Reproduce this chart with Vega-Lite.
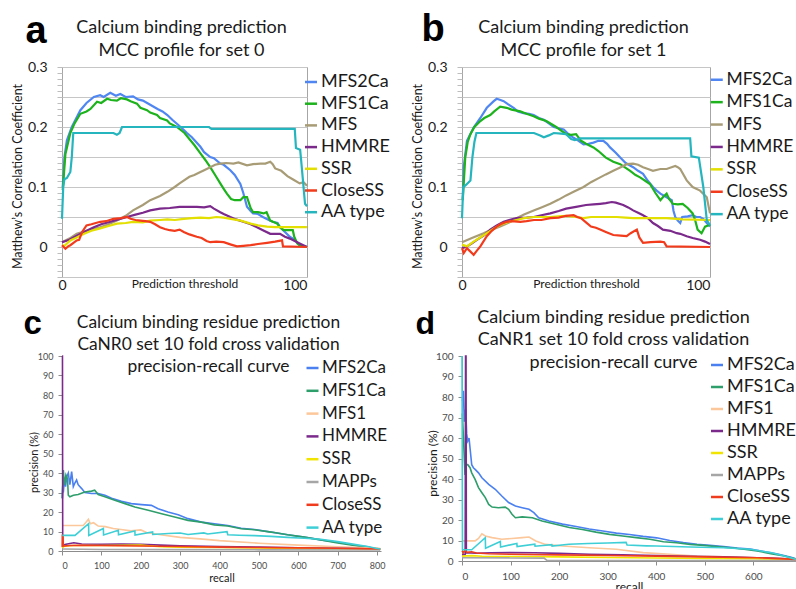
{
"$schema": "https://vega.github.io/schema/vega-lite/v6.json",
"padding": {"left": 10, "top": 9, "right": 0, "bottom": 0},
"background": "white",
"config": {"font": "Lato", "view": {"stroke": null}, "axis": {"labelFont": "Lato", "titleFont": "Lato", "titleColor": "#1a1a1a", "labelColor": "#1a1a1a"}, "legend": {"labelFont": "Lato"}},
"columns": 2,
"spacing": {"row": 79, "column": 81},
"bounds": "flush",
"resolve": {"scale": {"color": "independent"}, "legend": {"color": "independent"}},
"datasets": {
"a": [
{"s":"MFS2Ca","x":0.3,"y":0.1},{"s":"MFS2Ca","x":1,"y":0.15},{"s":"MFS2Ca","x":2,"y":0.178},{"s":"MFS2Ca","x":4,"y":0.2},{"s":"MFS2Ca","x":7.5,"y":0.228},{"s":"MFS2Ca","x":10,"y":0.24},{"s":"MFS2Ca","x":13,"y":0.25},{"s":"MFS2Ca","x":15.6,"y":0.253},{"s":"MFS2Ca","x":17,"y":0.25},{"s":"MFS2Ca","x":19.7,"y":0.257},{"s":"MFS2Ca","x":22,"y":0.252},{"s":"MFS2Ca","x":23.8,"y":0.255},{"s":"MFS2Ca","x":26,"y":0.25},{"s":"MFS2Ca","x":29,"y":0.251},{"s":"MFS2Ca","x":31,"y":0.246},{"s":"MFS2Ca","x":33,"y":0.244},{"s":"MFS2Ca","x":36,"y":0.237},{"s":"MFS2Ca","x":39,"y":0.23},{"s":"MFS2Ca","x":41,"y":0.226},{"s":"MFS2Ca","x":43,"y":0.22},{"s":"MFS2Ca","x":45,"y":0.212},{"s":"MFS2Ca","x":47,"y":0.205},{"s":"MFS2Ca","x":49,"y":0.198},{"s":"MFS2Ca","x":51,"y":0.19},{"s":"MFS2Ca","x":53,"y":0.183},{"s":"MFS2Ca","x":56.5,"y":0.167},{"s":"MFS2Ca","x":58,"y":0.158},{"s":"MFS2Ca","x":60.5,"y":0.15},{"s":"MFS2Ca","x":62,"y":0.148},{"s":"MFS2Ca","x":64.6,"y":0.139},{"s":"MFS2Ca","x":66,"y":0.137},{"s":"MFS2Ca","x":68.7,"y":0.128},{"s":"MFS2Ca","x":70.5,"y":0.12},{"s":"MFS2Ca","x":72.8,"y":0.105},{"s":"MFS2Ca","x":74,"y":0.09},{"s":"MFS2Ca","x":75.5,"y":0.067},{"s":"MFS2Ca","x":77,"y":0.06},{"s":"MFS2Ca","x":78,"y":0.056},{"s":"MFS2Ca","x":80,"y":0.055},{"s":"MFS2Ca","x":82,"y":0.05},{"s":"MFS2Ca","x":84,"y":0.046},{"s":"MFS2Ca","x":86,"y":0.042},{"s":"MFS2Ca","x":88,"y":0.04},{"s":"MFS2Ca","x":89,"y":0.033},{"s":"MFS2Ca","x":91,"y":0.025},{"s":"MFS2Ca","x":93,"y":0.017},{"s":"MFS2Ca","x":95,"y":0.012},{"s":"MFS2Ca","x":97,"y":0.003},{"s":"MFS2Ca","x":100,"y":0},
{"s":"MFS1Ca","x":0.3,"y":0.095},{"s":"MFS1Ca","x":1.4,"y":0.155},{"s":"MFS1Ca","x":3.4,"y":0.19},{"s":"MFS1Ca","x":5,"y":0.205},{"s":"MFS1Ca","x":7.5,"y":0.222},{"s":"MFS1Ca","x":10,"y":0.226},{"s":"MFS1Ca","x":11.6,"y":0.23},{"s":"MFS1Ca","x":14.3,"y":0.242},{"s":"MFS1Ca","x":16,"y":0.24},{"s":"MFS1Ca","x":18.4,"y":0.247},{"s":"MFS1Ca","x":20,"y":0.245},{"s":"MFS1Ca","x":22.4,"y":0.244},{"s":"MFS1Ca","x":24,"y":0.248},{"s":"MFS1Ca","x":26.5,"y":0.246},{"s":"MFS1Ca","x":28,"y":0.243},{"s":"MFS1Ca","x":30.6,"y":0.239},{"s":"MFS1Ca","x":32,"y":0.232},{"s":"MFS1Ca","x":34.7,"y":0.228},{"s":"MFS1Ca","x":36,"y":0.224},{"s":"MFS1Ca","x":38.8,"y":0.22},{"s":"MFS1Ca","x":40,"y":0.215},{"s":"MFS1Ca","x":42.9,"y":0.211},{"s":"MFS1Ca","x":44,"y":0.206},{"s":"MFS1Ca","x":46.9,"y":0.2},{"s":"MFS1Ca","x":50,"y":0.19},{"s":"MFS1Ca","x":52.4,"y":0.178},{"s":"MFS1Ca","x":54,"y":0.17},{"s":"MFS1Ca","x":56.5,"y":0.156},{"s":"MFS1Ca","x":58.5,"y":0.145},{"s":"MFS1Ca","x":60.5,"y":0.133},{"s":"MFS1Ca","x":62.5,"y":0.12},{"s":"MFS1Ca","x":64.6,"y":0.106},{"s":"MFS1Ca","x":66,"y":0.097},{"s":"MFS1Ca","x":67.3,"y":0.089},{"s":"MFS1Ca","x":69,"y":0.08},{"s":"MFS1Ca","x":70.5,"y":0.078},{"s":"MFS1Ca","x":72.8,"y":0.078},{"s":"MFS1Ca","x":74,"y":0.083},{"s":"MFS1Ca","x":75.5,"y":0.083},{"s":"MFS1Ca","x":77,"y":0.065},{"s":"MFS1Ca","x":78,"y":0.058},{"s":"MFS1Ca","x":80,"y":0.058},{"s":"MFS1Ca","x":82.3,"y":0.056},{"s":"MFS1Ca","x":83.5,"y":0.058},{"s":"MFS1Ca","x":85,"y":0.044},{"s":"MFS1Ca","x":87.8,"y":0.039},{"s":"MFS1Ca","x":89,"y":0.033},{"s":"MFS1Ca","x":90.5,"y":0.028},{"s":"MFS1Ca","x":94.2,"y":0.028},{"s":"MFS1Ca","x":94.8,"y":0.017},{"s":"MFS1Ca","x":96,"y":0.006},{"s":"MFS1Ca","x":97,"y":0.003},{"s":"MFS1Ca","x":100,"y":0},
{"s":"MFS","x":0,"y":0.008},{"s":"MFS","x":3,"y":0.014},{"s":"MFS","x":6,"y":0.022},{"s":"MFS","x":10,"y":0.027},{"s":"MFS","x":15.6,"y":0.033},{"s":"MFS","x":19,"y":0.038},{"s":"MFS","x":22.4,"y":0.044},{"s":"MFS","x":26,"y":0.052},{"s":"MFS","x":29,"y":0.061},{"s":"MFS","x":33,"y":0.07},{"s":"MFS","x":36,"y":0.078},{"s":"MFS","x":40,"y":0.085},{"s":"MFS","x":43,"y":0.092},{"s":"MFS","x":46,"y":0.1},{"s":"MFS","x":48,"y":0.106},{"s":"MFS","x":52,"y":0.117},{"s":"MFS","x":54,"y":0.12},{"s":"MFS","x":56.5,"y":0.125},{"s":"MFS","x":58,"y":0.128},{"s":"MFS","x":60.5,"y":0.133},{"s":"MFS","x":62.5,"y":0.137},{"s":"MFS","x":64.6,"y":0.139},{"s":"MFS","x":67,"y":0.14},{"s":"MFS","x":70,"y":0.139},{"s":"MFS","x":72,"y":0.141},{"s":"MFS","x":75.5,"y":0.136},{"s":"MFS","x":78,"y":0.138},{"s":"MFS","x":81,"y":0.139},{"s":"MFS","x":83,"y":0.139},{"s":"MFS","x":85,"y":0.142},{"s":"MFS","x":86,"y":0.138},{"s":"MFS","x":87,"y":0.131},{"s":"MFS","x":89.5,"y":0.127},{"s":"MFS","x":92,"y":0.118},{"s":"MFS","x":94.5,"y":0.112},{"s":"MFS","x":97,"y":0.106},{"s":"MFS","x":98.6,"y":0.108},{"s":"MFS","x":100,"y":0.102},
{"s":"HMMRE","x":0,"y":0.008},{"s":"HMMRE","x":3,"y":0.012},{"s":"HMMRE","x":6,"y":0.019},{"s":"HMMRE","x":9,"y":0.025},{"s":"HMMRE","x":13,"y":0.033},{"s":"HMMRE","x":16,"y":0.038},{"s":"HMMRE","x":19.7,"y":0.042},{"s":"HMMRE","x":23,"y":0.046},{"s":"HMMRE","x":26.5,"y":0.05},{"s":"HMMRE","x":30,"y":0.054},{"s":"HMMRE","x":33,"y":0.057},{"s":"HMMRE","x":36,"y":0.061},{"s":"HMMRE","x":40,"y":0.064},{"s":"HMMRE","x":44,"y":0.065},{"s":"HMMRE","x":48,"y":0.067},{"s":"HMMRE","x":52,"y":0.067},{"s":"HMMRE","x":55,"y":0.067},{"s":"HMMRE","x":58,"y":0.066},{"s":"HMMRE","x":60.5,"y":0.068},{"s":"HMMRE","x":62,"y":0.064},{"s":"HMMRE","x":64.6,"y":0.058},{"s":"HMMRE","x":66,"y":0.055},{"s":"HMMRE","x":68.7,"y":0.05},{"s":"HMMRE","x":71,"y":0.046},{"s":"HMMRE","x":74,"y":0.042},{"s":"HMMRE","x":77,"y":0.038},{"s":"HMMRE","x":79.6,"y":0.033},{"s":"HMMRE","x":82,"y":0.028},{"s":"HMMRE","x":85,"y":0.022},{"s":"HMMRE","x":89,"y":0.022},{"s":"HMMRE","x":91,"y":0.017},{"s":"HMMRE","x":93,"y":0.014},{"s":"HMMRE","x":95,"y":0.01},{"s":"HMMRE","x":97,"y":0.006},{"s":"HMMRE","x":100,"y":0},
{"s":"SSR","x":0,"y":0.003},{"s":"SSR","x":1,"y":0.002},{"s":"SSR","x":3.4,"y":0.011},{"s":"SSR","x":6,"y":0.016},{"s":"SSR","x":9,"y":0.022},{"s":"SSR","x":12,"y":0.027},{"s":"SSR","x":15.6,"y":0.031},{"s":"SSR","x":19,"y":0.035},{"s":"SSR","x":22.4,"y":0.039},{"s":"SSR","x":26,"y":0.04},{"s":"SSR","x":29,"y":0.042},{"s":"SSR","x":33,"y":0.041},{"s":"SSR","x":36,"y":0.044},{"s":"SSR","x":40,"y":0.045},{"s":"SSR","x":43,"y":0.046},{"s":"SSR","x":46,"y":0.045},{"s":"SSR","x":49.7,"y":0.047},{"s":"SSR","x":53,"y":0.048},{"s":"SSR","x":56.5,"y":0.049},{"s":"SSR","x":60,"y":0.048},{"s":"SSR","x":63,"y":0.05},{"s":"SSR","x":66,"y":0.049},{"s":"SSR","x":70,"y":0.046},{"s":"SSR","x":73,"y":0.044},{"s":"SSR","x":77,"y":0.039},{"s":"SSR","x":80,"y":0.036},{"s":"SSR","x":83.7,"y":0.034},{"s":"SSR","x":87,"y":0.033},{"s":"SSR","x":90.5,"y":0.033},{"s":"SSR","x":100,"y":0.033},
{"s":"CloseSS","x":0,"y":0.003},{"s":"CloseSS","x":1.4,"y":-0.003},{"s":"CloseSS","x":2.5,"y":0.001},{"s":"CloseSS","x":3.4,"y":0.003},{"s":"CloseSS","x":6,"y":0.011},{"s":"CloseSS","x":7,"y":0.012},{"s":"CloseSS","x":8.2,"y":0.025},{"s":"CloseSS","x":10,"y":0.036},{"s":"CloseSS","x":12,"y":0.038},{"s":"CloseSS","x":15.6,"y":0.042},{"s":"CloseSS","x":18,"y":0.043},{"s":"CloseSS","x":21,"y":0.047},{"s":"CloseSS","x":24,"y":0.048},{"s":"CloseSS","x":26.5,"y":0.05},{"s":"CloseSS","x":28,"y":0.047},{"s":"CloseSS","x":30,"y":0.045},{"s":"CloseSS","x":32,"y":0.044},{"s":"CloseSS","x":34,"y":0.043},{"s":"CloseSS","x":36,"y":0.042},{"s":"CloseSS","x":38,"y":0.038},{"s":"CloseSS","x":40,"y":0.033},{"s":"CloseSS","x":42,"y":0.03},{"s":"CloseSS","x":44,"y":0.028},{"s":"CloseSS","x":46,"y":0.027},{"s":"CloseSS","x":48,"y":0.029},{"s":"CloseSS","x":49.7,"y":0.025},{"s":"CloseSS","x":52,"y":0.021},{"s":"CloseSS","x":55,"y":0.017},{"s":"CloseSS","x":57,"y":0.015},{"s":"CloseSS","x":59,"y":0.01},{"s":"CloseSS","x":60.5,"y":0.008},{"s":"CloseSS","x":63,"y":0.009},{"s":"CloseSS","x":66,"y":0.008},{"s":"CloseSS","x":69,"y":0.004},{"s":"CloseSS","x":71.4,"y":0.001},{"s":"CloseSS","x":74,"y":0.002},{"s":"CloseSS","x":77,"y":0.003},{"s":"CloseSS","x":80,"y":0.005},{"s":"CloseSS","x":83.7,"y":0.007},{"s":"CloseSS","x":87,"y":0.009},{"s":"CloseSS","x":89.8,"y":0.011},{"s":"CloseSS","x":90.2,"y":0.001},{"s":"CloseSS","x":100,"y":0},
{"s":"AA type","x":0,"y":0.047},{"s":"AA type","x":0.5,"y":0.1},{"s":"AA type","x":1,"y":0.113},{"s":"AA type","x":2,"y":0.115},{"s":"AA type","x":3.4,"y":0.125},{"s":"AA type","x":4,"y":0.15},{"s":"AA type","x":4.6,"y":0.19},{"s":"AA type","x":21,"y":0.19},{"s":"AA type","x":22.4,"y":0.187},{"s":"AA type","x":23.5,"y":0.19},{"s":"AA type","x":24.5,"y":0.2},{"s":"AA type","x":60,"y":0.2},{"s":"AA type","x":61,"y":0.197},{"s":"AA type","x":95,"y":0.197},{"s":"AA type","x":95.5,"y":0.165},{"s":"AA type","x":97.2,"y":0.162},{"s":"AA type","x":97.6,"y":0.145},{"s":"AA type","x":99.2,"y":0.072},{"s":"AA type","x":100,"y":0.068}
],
"b": [
{"s":"MFS2Ca","x":0.3,"y":0.08},{"s":"MFS2Ca","x":0.7,"y":0.133},{"s":"MFS2Ca","x":2,"y":0.177},{"s":"MFS2Ca","x":4.7,"y":0.199},{"s":"MFS2Ca","x":7.4,"y":0.215},{"s":"MFS2Ca","x":10,"y":0.232},{"s":"MFS2Ca","x":12.8,"y":0.243},{"s":"MFS2Ca","x":14,"y":0.247},{"s":"MFS2Ca","x":15.5,"y":0.245},{"s":"MFS2Ca","x":16.8,"y":0.243},{"s":"MFS2Ca","x":18.5,"y":0.238},{"s":"MFS2Ca","x":20.8,"y":0.232},{"s":"MFS2Ca","x":22.5,"y":0.226},{"s":"MFS2Ca","x":24.8,"y":0.223},{"s":"MFS2Ca","x":27,"y":0.222},{"s":"MFS2Ca","x":28.9,"y":0.22},{"s":"MFS2Ca","x":31,"y":0.215},{"s":"MFS2Ca","x":33,"y":0.212},{"s":"MFS2Ca","x":35,"y":0.206},{"s":"MFS2Ca","x":37,"y":0.2},{"s":"MFS2Ca","x":39,"y":0.198},{"s":"MFS2Ca","x":41,"y":0.196},{"s":"MFS2Ca","x":43,"y":0.188},{"s":"MFS2Ca","x":45,"y":0.182},{"s":"MFS2Ca","x":47,"y":0.177},{"s":"MFS2Ca","x":49,"y":0.171},{"s":"MFS2Ca","x":51,"y":0.172},{"s":"MFS2Ca","x":53,"y":0.174},{"s":"MFS2Ca","x":55,"y":0.177},{"s":"MFS2Ca","x":57,"y":0.177},{"s":"MFS2Ca","x":58.5,"y":0.172},{"s":"MFS2Ca","x":59.7,"y":0.166},{"s":"MFS2Ca","x":62,"y":0.157},{"s":"MFS2Ca","x":63.8,"y":0.149},{"s":"MFS2Ca","x":66,"y":0.14},{"s":"MFS2Ca","x":69,"y":0.133},{"s":"MFS2Ca","x":71,"y":0.127},{"s":"MFS2Ca","x":73,"y":0.122},{"s":"MFS2Ca","x":75,"y":0.11},{"s":"MFS2Ca","x":77,"y":0.1},{"s":"MFS2Ca","x":78.5,"y":0.094},{"s":"MFS2Ca","x":80,"y":0.089},{"s":"MFS2Ca","x":82.5,"y":0.083},{"s":"MFS2Ca","x":84.6,"y":0.078},{"s":"MFS2Ca","x":85.3,"y":0.06},{"s":"MFS2Ca","x":86,"y":0.05},{"s":"MFS2Ca","x":87,"y":0.044},{"s":"MFS2Ca","x":88,"y":0.04},{"s":"MFS2Ca","x":88.8,"y":0.05},{"s":"MFS2Ca","x":91,"y":0.051},{"s":"MFS2Ca","x":93,"y":0.053},{"s":"MFS2Ca","x":94.5,"y":0.05},{"s":"MFS2Ca","x":96,"y":0.05},{"s":"MFS2Ca","x":97.5,"y":0.046},{"s":"MFS2Ca","x":98.7,"y":0.04},{"s":"MFS2Ca","x":100,"y":0.034},
{"s":"MFS1Ca","x":0.3,"y":0.078},{"s":"MFS1Ca","x":1.3,"y":0.149},{"s":"MFS1Ca","x":2.3,"y":0.175},{"s":"MFS1Ca","x":3.4,"y":0.188},{"s":"MFS1Ca","x":5,"y":0.2},{"s":"MFS1Ca","x":7.4,"y":0.21},{"s":"MFS1Ca","x":9,"y":0.215},{"s":"MFS1Ca","x":11.4,"y":0.22},{"s":"MFS1Ca","x":13,"y":0.226},{"s":"MFS1Ca","x":15.4,"y":0.234},{"s":"MFS1Ca","x":18,"y":0.232},{"s":"MFS1Ca","x":20,"y":0.229},{"s":"MFS1Ca","x":23.5,"y":0.226},{"s":"MFS1Ca","x":26,"y":0.222},{"s":"MFS1Ca","x":28.9,"y":0.218},{"s":"MFS1Ca","x":31,"y":0.214},{"s":"MFS1Ca","x":34,"y":0.21},{"s":"MFS1Ca","x":36,"y":0.205},{"s":"MFS1Ca","x":38,"y":0.2},{"s":"MFS1Ca","x":40,"y":0.194},{"s":"MFS1Ca","x":42,"y":0.188},{"s":"MFS1Ca","x":44,"y":0.187},{"s":"MFS1Ca","x":46,"y":0.188},{"s":"MFS1Ca","x":48,"y":0.177},{"s":"MFS1Ca","x":50,"y":0.172},{"s":"MFS1Ca","x":53,"y":0.166},{"s":"MFS1Ca","x":55,"y":0.16},{"s":"MFS1Ca","x":58,"y":0.149},{"s":"MFS1Ca","x":61,"y":0.142},{"s":"MFS1Ca","x":63.8,"y":0.138},{"s":"MFS1Ca","x":66,"y":0.132},{"s":"MFS1Ca","x":67.8,"y":0.127},{"s":"MFS1Ca","x":70,"y":0.12},{"s":"MFS1Ca","x":71.8,"y":0.116},{"s":"MFS1Ca","x":74,"y":0.11},{"s":"MFS1Ca","x":75.8,"y":0.105},{"s":"MFS1Ca","x":78,"y":0.09},{"s":"MFS1Ca","x":80,"y":0.078},{"s":"MFS1Ca","x":81,"y":0.083},{"s":"MFS1Ca","x":82.5,"y":0.089},{"s":"MFS1Ca","x":83.5,"y":0.08},{"s":"MFS1Ca","x":85,"y":0.072},{"s":"MFS1Ca","x":87,"y":0.071},{"s":"MFS1Ca","x":89,"y":0.072},{"s":"MFS1Ca","x":91,"y":0.065},{"s":"MFS1Ca","x":93,"y":0.056},{"s":"MFS1Ca","x":94,"y":0.045},{"s":"MFS1Ca","x":95,"y":0.029},{"s":"MFS1Ca","x":96.6,"y":0.023},{"s":"MFS1Ca","x":97.5,"y":0.03},{"s":"MFS1Ca","x":98,"y":0.034},{"s":"MFS1Ca","x":100,"y":0.037},
{"s":"MFS","x":0,"y":0.008},{"s":"MFS","x":4,"y":0.015},{"s":"MFS","x":8.7,"y":0.023},{"s":"MFS","x":12,"y":0.029},{"s":"MFS","x":15.4,"y":0.034},{"s":"MFS","x":19,"y":0.041},{"s":"MFS","x":22,"y":0.048},{"s":"MFS","x":25,"y":0.054},{"s":"MFS","x":28.9,"y":0.061},{"s":"MFS","x":32,"y":0.066},{"s":"MFS","x":35.6,"y":0.072},{"s":"MFS","x":39,"y":0.079},{"s":"MFS","x":42,"y":0.086},{"s":"MFS","x":45,"y":0.092},{"s":"MFS","x":49,"y":0.1},{"s":"MFS","x":52,"y":0.108},{"s":"MFS","x":55.7,"y":0.116},{"s":"MFS","x":58,"y":0.121},{"s":"MFS","x":61,"y":0.127},{"s":"MFS","x":64,"y":0.133},{"s":"MFS","x":66.4,"y":0.138},{"s":"MFS","x":69,"y":0.139},{"s":"MFS","x":71,"y":0.137},{"s":"MFS","x":73,"y":0.133},{"s":"MFS","x":75,"y":0.13},{"s":"MFS","x":77,"y":0.127},{"s":"MFS","x":80,"y":0.13},{"s":"MFS","x":82.5,"y":0.13},{"s":"MFS","x":84.5,"y":0.133},{"s":"MFS","x":86,"y":0.135},{"s":"MFS","x":87,"y":0.133},{"s":"MFS","x":88,"y":0.13},{"s":"MFS","x":90.6,"y":0.111},{"s":"MFS","x":93,"y":0.1},{"s":"MFS","x":96,"y":0.094},{"s":"MFS","x":98.7,"y":0.083},{"s":"MFS","x":100,"y":0.056},
{"s":"HMMRE","x":0,"y":-0.002},{"s":"HMMRE","x":2,"y":0.001},{"s":"HMMRE","x":4,"y":0.006},{"s":"HMMRE","x":6,"y":0.012},{"s":"HMMRE","x":9,"y":0.02},{"s":"HMMRE","x":11.4,"y":0.029},{"s":"HMMRE","x":14,"y":0.036},{"s":"HMMRE","x":16.8,"y":0.042},{"s":"HMMRE","x":19,"y":0.045},{"s":"HMMRE","x":22,"y":0.048},{"s":"HMMRE","x":26,"y":0.049},{"s":"HMMRE","x":28.9,"y":0.05},{"s":"HMMRE","x":32,"y":0.053},{"s":"HMMRE","x":35.6,"y":0.056},{"s":"HMMRE","x":39,"y":0.06},{"s":"HMMRE","x":42,"y":0.064},{"s":"HMMRE","x":46,"y":0.067},{"s":"HMMRE","x":50,"y":0.07},{"s":"HMMRE","x":53,"y":0.071},{"s":"HMMRE","x":55.7,"y":0.072},{"s":"HMMRE","x":58,"y":0.073},{"s":"HMMRE","x":60.4,"y":0.075},{"s":"HMMRE","x":62,"y":0.074},{"s":"HMMRE","x":65,"y":0.07},{"s":"HMMRE","x":67,"y":0.066},{"s":"HMMRE","x":69,"y":0.061},{"s":"HMMRE","x":71,"y":0.057},{"s":"HMMRE","x":73,"y":0.053},{"s":"HMMRE","x":75,"y":0.048},{"s":"HMMRE","x":77,"y":0.04},{"s":"HMMRE","x":79,"y":0.035},{"s":"HMMRE","x":81,"y":0.029},{"s":"HMMRE","x":84,"y":0.027},{"s":"HMMRE","x":86.6,"y":0.023},{"s":"HMMRE","x":88,"y":0.022},{"s":"HMMRE","x":90.6,"y":0.018},{"s":"HMMRE","x":93,"y":0.015},{"s":"HMMRE","x":96,"y":0.012},{"s":"HMMRE","x":98,"y":0.009},{"s":"HMMRE","x":100,"y":0.005},
{"s":"SSR","x":0,"y":0.004},{"s":"SSR","x":2,"y":0.001},{"s":"SSR","x":4.7,"y":0.009},{"s":"SSR","x":7,"y":0.015},{"s":"SSR","x":10,"y":0.023},{"s":"SSR","x":13,"y":0.031},{"s":"SSR","x":15.4,"y":0.037},{"s":"SSR","x":19,"y":0.042},{"s":"SSR","x":22,"y":0.045},{"s":"SSR","x":25,"y":0.048},{"s":"SSR","x":28.9,"y":0.05},{"s":"SSR","x":32,"y":0.05},{"s":"SSR","x":35.6,"y":0.05},{"s":"SSR","x":39,"y":0.051},{"s":"SSR","x":42,"y":0.052},{"s":"SSR","x":46,"y":0.05},{"s":"SSR","x":49,"y":0.048},{"s":"SSR","x":52,"y":0.05},{"s":"SSR","x":55.7,"y":0.05},{"s":"SSR","x":59,"y":0.05},{"s":"SSR","x":62.4,"y":0.05},{"s":"SSR","x":66,"y":0.049},{"s":"SSR","x":69,"y":0.048},{"s":"SSR","x":75.8,"y":0.048},{"s":"SSR","x":82.5,"y":0.048},{"s":"SSR","x":89,"y":0.046},{"s":"SSR","x":100,"y":0.045},
{"s":"CloseSS","x":0,"y":-0.002},{"s":"CloseSS","x":0.7,"y":-0.01},{"s":"CloseSS","x":2,"y":-0.002},{"s":"CloseSS","x":3,"y":-0.006},{"s":"CloseSS","x":4.7,"y":-0.013},{"s":"CloseSS","x":6,"y":-0.006},{"s":"CloseSS","x":7.4,"y":0.001},{"s":"CloseSS","x":10,"y":0.018},{"s":"CloseSS","x":12,"y":0.027},{"s":"CloseSS","x":14,"y":0.034},{"s":"CloseSS","x":16,"y":0.039},{"s":"CloseSS","x":18,"y":0.042},{"s":"CloseSS","x":20,"y":0.043},{"s":"CloseSS","x":23.5,"y":0.042},{"s":"CloseSS","x":26,"y":0.043},{"s":"CloseSS","x":29,"y":0.045},{"s":"CloseSS","x":32,"y":0.045},{"s":"CloseSS","x":35.6,"y":0.048},{"s":"CloseSS","x":39,"y":0.049},{"s":"CloseSS","x":42,"y":0.052},{"s":"CloseSS","x":45,"y":0.053},{"s":"CloseSS","x":46.5,"y":0.05},{"s":"CloseSS","x":48,"y":0.048},{"s":"CloseSS","x":50,"y":0.041},{"s":"CloseSS","x":52,"y":0.034},{"s":"CloseSS","x":54,"y":0.032},{"s":"CloseSS","x":55.7,"y":0.029},{"s":"CloseSS","x":58,"y":0.025},{"s":"CloseSS","x":61,"y":0.02},{"s":"CloseSS","x":64,"y":0.019},{"s":"CloseSS","x":66.4,"y":0.018},{"s":"CloseSS","x":68,"y":0.023},{"s":"CloseSS","x":70.5,"y":0.029},{"s":"CloseSS","x":71.5,"y":0.016},{"s":"CloseSS","x":73,"y":0.007},{"s":"CloseSS","x":76,"y":0.008},{"s":"CloseSS","x":80,"y":0.009},{"s":"CloseSS","x":81.5,"y":0.008},{"s":"CloseSS","x":82.5,"y":0.001},{"s":"CloseSS","x":100,"y":0},
{"s":"AA type","x":0,"y":0.048},{"s":"AA type","x":0.5,"y":0.1},{"s":"AA type","x":1.5,"y":0.103},{"s":"AA type","x":3.4,"y":0.111},{"s":"AA type","x":4.2,"y":0.15},{"s":"AA type","x":5,"y":0.175},{"s":"AA type","x":5.8,"y":0.19},{"s":"AA type","x":29,"y":0.19},{"s":"AA type","x":31.5,"y":0.186},{"s":"AA type","x":33,"y":0.183},{"s":"AA type","x":35,"y":0.186},{"s":"AA type","x":37,"y":0.19},{"s":"AA type","x":40,"y":0.189},{"s":"AA type","x":42,"y":0.188},{"s":"AA type","x":44,"y":0.18},{"s":"AA type","x":45.5,"y":0.178},{"s":"AA type","x":47.7,"y":0.181},{"s":"AA type","x":92,"y":0.181},{"s":"AA type","x":92.5,"y":0.151},{"s":"AA type","x":95.5,"y":0.149},{"s":"AA type","x":97.3,"y":0.1},{"s":"AA type","x":98.7,"y":0.045},{"s":"AA type","x":100,"y":0.036}
],
"c": [
{"s":"MFS2Ca","x":0.8,"y":27},{"s":"MFS2Ca","x":2,"y":34},{"s":"MFS2Ca","x":3.4,"y":30},{"s":"MFS2Ca","x":6,"y":37},{"s":"MFS2Ca","x":9,"y":33},{"s":"MFS2Ca","x":12,"y":38},{"s":"MFS2Ca","x":16,"y":40},{"s":"MFS2Ca","x":20,"y":34},{"s":"MFS2Ca","x":24.5,"y":40.7},{"s":"MFS2Ca","x":28.7,"y":33},{"s":"MFS2Ca","x":33,"y":35},{"s":"MFS2Ca","x":37,"y":36.4},{"s":"MFS2Ca","x":41,"y":34},{"s":"MFS2Ca","x":50,"y":32},{"s":"MFS2Ca","x":58,"y":30},{"s":"MFS2Ca","x":75,"y":29.5},{"s":"MFS2Ca","x":92,"y":29.5},{"s":"MFS2Ca","x":109,"y":28.6},{"s":"MFS2Ca","x":126,"y":27},{"s":"MFS2Ca","x":151,"y":25.5},{"s":"MFS2Ca","x":176,"y":24.3},{"s":"MFS2Ca","x":202,"y":23.8},{"s":"MFS2Ca","x":227,"y":23.4},{"s":"MFS2Ca","x":244,"y":21.7},{"s":"MFS2Ca","x":269,"y":20},{"s":"MFS2Ca","x":295,"y":18.6},{"s":"MFS2Ca","x":320,"y":16.6},{"s":"MFS2Ca","x":354,"y":14.8},{"s":"MFS2Ca","x":387,"y":14},{"s":"MFS2Ca","x":421,"y":13.1},{"s":"MFS2Ca","x":455,"y":11.7},{"s":"MFS2Ca","x":489,"y":11},{"s":"MFS2Ca","x":531,"y":9.7},{"s":"MFS2Ca","x":573,"y":8.3},{"s":"MFS2Ca","x":615,"y":7.1},{"s":"MFS2Ca","x":657,"y":5.7},{"s":"MFS2Ca","x":700,"y":4.5},{"s":"MFS2Ca","x":742,"y":3.1},{"s":"MFS2Ca","x":776,"y":2.2},{"s":"MFS2Ca","x":797,"y":1.2},{"s":"MFS2Ca","x":808,"y":0.8},
{"s":"MFS1Ca","x":0.8,"y":27},{"s":"MFS1Ca","x":3.4,"y":41.5},{"s":"MFS1Ca","x":6,"y":33.8},{"s":"MFS1Ca","x":10,"y":39},{"s":"MFS1Ca","x":14,"y":37},{"s":"MFS1Ca","x":16,"y":28.6},{"s":"MFS1Ca","x":20,"y":27.8},{"s":"MFS1Ca","x":29,"y":28.6},{"s":"MFS1Ca","x":41,"y":29},{"s":"MFS1Ca","x":58,"y":30.3},{"s":"MFS1Ca","x":75,"y":30.7},{"s":"MFS1Ca","x":83,"y":31.2},{"s":"MFS1Ca","x":92,"y":29},{"s":"MFS1Ca","x":109,"y":27.8},{"s":"MFS1Ca","x":134,"y":26},{"s":"MFS1Ca","x":160,"y":24.3},{"s":"MFS1Ca","x":185,"y":22.6},{"s":"MFS1Ca","x":219,"y":20.9},{"s":"MFS1Ca","x":253,"y":19.1},{"s":"MFS1Ca","x":286,"y":17.4},{"s":"MFS1Ca","x":320,"y":15.7},{"s":"MFS1Ca","x":354,"y":14.8},{"s":"MFS1Ca","x":387,"y":13.4},{"s":"MFS1Ca","x":421,"y":12.8},{"s":"MFS1Ca","x":455,"y":11.4},{"s":"MFS1Ca","x":489,"y":10.9},{"s":"MFS1Ca","x":531,"y":9.7},{"s":"MFS1Ca","x":573,"y":8.3},{"s":"MFS1Ca","x":615,"y":7.1},{"s":"MFS1Ca","x":657,"y":5.7},{"s":"MFS1Ca","x":700,"y":4.1},{"s":"MFS1Ca","x":742,"y":2.8},{"s":"MFS1Ca","x":797,"y":1.2},{"s":"MFS1Ca","x":808,"y":0.8},
{"s":"MFS1","x":0.8,"y":13.1},{"s":"MFS1","x":54,"y":13.1},{"s":"MFS1","x":60,"y":14.5},{"s":"MFS1","x":67,"y":16.3},{"s":"MFS1","x":72,"y":14},{"s":"MFS1","x":80,"y":14.5},{"s":"MFS1","x":92,"y":12.8},{"s":"MFS1","x":110,"y":12.5},{"s":"MFS1","x":130,"y":11.5},{"s":"MFS1","x":150,"y":11},{"s":"MFS1","x":175,"y":10.3},{"s":"MFS1","x":200,"y":10.8},{"s":"MFS1","x":215,"y":9.5},{"s":"MFS1","x":250,"y":8.3},{"s":"MFS1","x":300,"y":7},{"s":"MFS1","x":350,"y":6.2},{"s":"MFS1","x":400,"y":5.3},{"s":"MFS1","x":500,"y":4},{"s":"MFS1","x":600,"y":3},{"s":"MFS1","x":700,"y":2.2},{"s":"MFS1","x":800,"y":1.5},{"s":"MFS1","x":808,"y":1.3},
{"s":"HMMRE","x":0.3,"y":100},{"s":"HMMRE","x":1.2,"y":100},{"s":"HMMRE","x":1.8,"y":3},{"s":"HMMRE","x":10,"y":3.5},{"s":"HMMRE","x":30,"y":4.2},{"s":"HMMRE","x":50,"y":3.6},{"s":"HMMRE","x":100,"y":3.5},{"s":"HMMRE","x":150,"y":3.6},{"s":"HMMRE","x":200,"y":3.4},{"s":"HMMRE","x":250,"y":3},{"s":"HMMRE","x":300,"y":2.7},{"s":"HMMRE","x":400,"y":2.3},{"s":"HMMRE","x":500,"y":2},{"s":"HMMRE","x":600,"y":1.7},{"s":"HMMRE","x":700,"y":1.4},{"s":"HMMRE","x":808,"y":1},
{"s":"SSR","x":0.5,"y":1.5},{"s":"SSR","x":5,"y":2.5},{"s":"SSR","x":30,"y":2.8},{"s":"SSR","x":100,"y":2.8},{"s":"SSR","x":200,"y":3},{"s":"SSR","x":250,"y":2.2},{"s":"SSR","x":300,"y":2},{"s":"SSR","x":400,"y":1.8},{"s":"SSR","x":500,"y":1.5},{"s":"SSR","x":600,"y":1.3},{"s":"SSR","x":700,"y":1.1},{"s":"SSR","x":808,"y":0.9},
{"s":"MAPPs","x":0.5,"y":1},{"s":"MAPPs","x":100,"y":0.8},{"s":"MAPPs","x":300,"y":0.7},{"s":"MAPPs","x":500,"y":0.6},{"s":"MAPPs","x":808,"y":0.5},
{"s":"CloseSS","x":0.5,"y":2},{"s":"CloseSS","x":1,"y":8},{"s":"CloseSS","x":2.5,"y":8},{"s":"CloseSS","x":3.5,"y":2.5},{"s":"CloseSS","x":20,"y":2.8},{"s":"CloseSS","x":50,"y":2.9},{"s":"CloseSS","x":100,"y":2.8},{"s":"CloseSS","x":200,"y":2.6},{"s":"CloseSS","x":300,"y":2.3},{"s":"CloseSS","x":400,"y":2},{"s":"CloseSS","x":500,"y":1.8},{"s":"CloseSS","x":600,"y":1.6},{"s":"CloseSS","x":700,"y":1.4},{"s":"CloseSS","x":808,"y":1.1},
{"s":"AA type","x":0.8,"y":8},{"s":"AA type","x":33,"y":8},{"s":"AA type","x":67.5,"y":14},{"s":"AA type","x":68,"y":8},{"s":"AA type","x":105,"y":11.5},{"s":"AA type","x":105.5,"y":8.2},{"s":"AA type","x":143,"y":10.6},{"s":"AA type","x":143.5,"y":8.3},{"s":"AA type","x":185,"y":10.3},{"s":"AA type","x":185.5,"y":8.2},{"s":"AA type","x":230,"y":9.8},{"s":"AA type","x":230.5,"y":8.5},{"s":"AA type","x":270,"y":9},{"s":"AA type","x":300,"y":9.2},{"s":"AA type","x":320,"y":8.5},{"s":"AA type","x":360,"y":9.3},{"s":"AA type","x":370,"y":8.7},{"s":"AA type","x":419,"y":9.9},{"s":"AA type","x":421,"y":8.3},{"s":"AA type","x":450,"y":8.1},{"s":"AA type","x":489,"y":7.9},{"s":"AA type","x":531,"y":7.5},{"s":"AA type","x":573,"y":7},{"s":"AA type","x":615,"y":6.5},{"s":"AA type","x":657,"y":6},{"s":"AA type","x":700,"y":4.8},{"s":"AA type","x":742,"y":3.4},{"s":"AA type","x":776,"y":2.3},{"s":"AA type","x":797,"y":1.4},{"s":"AA type","x":808,"y":1}
],
"d": [
{"s":"MFS2Ca","x":1,"y":78},{"s":"MFS2Ca","x":2.8,"y":83},{"s":"MFS2Ca","x":4.8,"y":68},{"s":"MFS2Ca","x":7.6,"y":74},{"s":"MFS2Ca","x":9.7,"y":62},{"s":"MFS2Ca","x":11.8,"y":58.5},{"s":"MFS2Ca","x":14.5,"y":60},{"s":"MFS2Ca","x":16.6,"y":55},{"s":"MFS2Ca","x":20,"y":47},{"s":"MFS2Ca","x":23.5,"y":45.5},{"s":"MFS2Ca","x":27,"y":44.7},{"s":"MFS2Ca","x":34,"y":43},{"s":"MFS2Ca","x":41,"y":40.6},{"s":"MFS2Ca","x":55,"y":37.4},{"s":"MFS2Ca","x":68.5,"y":35},{"s":"MFS2Ca","x":82,"y":31.7},{"s":"MFS2Ca","x":96,"y":28.5},{"s":"MFS2Ca","x":110,"y":26.8},{"s":"MFS2Ca","x":124,"y":26},{"s":"MFS2Ca","x":138,"y":25.2},{"s":"MFS2Ca","x":148,"y":23.6},{"s":"MFS2Ca","x":158,"y":21.1},{"s":"MFS2Ca","x":179,"y":19.5},{"s":"MFS2Ca","x":207,"y":18},{"s":"MFS2Ca","x":235,"y":16.8},{"s":"MFS2Ca","x":262,"y":15.6},{"s":"MFS2Ca","x":290,"y":14.6},{"s":"MFS2Ca","x":318,"y":13.6},{"s":"MFS2Ca","x":345,"y":12.9},{"s":"MFS2Ca","x":373,"y":12},{"s":"MFS2Ca","x":401,"y":11.3},{"s":"MFS2Ca","x":428,"y":10},{"s":"MFS2Ca","x":456,"y":9},{"s":"MFS2Ca","x":484,"y":8.2},{"s":"MFS2Ca","x":511,"y":7.7},{"s":"MFS2Ca","x":539,"y":7.1},{"s":"MFS2Ca","x":567,"y":6.3},{"s":"MFS2Ca","x":594,"y":5.8},{"s":"MFS2Ca","x":622,"y":4.6},{"s":"MFS2Ca","x":650,"y":3.4},{"s":"MFS2Ca","x":678,"y":1.8},{"s":"MFS2Ca","x":688,"y":1},
{"s":"MFS1Ca","x":0.7,"y":72},{"s":"MFS1Ca","x":3,"y":60},{"s":"MFS1Ca","x":6.2,"y":42},{"s":"MFS1Ca","x":8.3,"y":47},{"s":"MFS1Ca","x":11.8,"y":47},{"s":"MFS1Ca","x":16.6,"y":45.5},{"s":"MFS1Ca","x":20,"y":43},{"s":"MFS1Ca","x":27,"y":39.8},{"s":"MFS1Ca","x":34,"y":35.8},{"s":"MFS1Ca","x":41,"y":33.3},{"s":"MFS1Ca","x":48,"y":30.9},{"s":"MFS1Ca","x":55,"y":27.6},{"s":"MFS1Ca","x":62,"y":26.3},{"s":"MFS1Ca","x":75,"y":26},{"s":"MFS1Ca","x":89,"y":26.3},{"s":"MFS1Ca","x":96,"y":25.2},{"s":"MFS1Ca","x":103,"y":22.8},{"s":"MFS1Ca","x":110,"y":21.1},{"s":"MFS1Ca","x":124,"y":21.5},{"s":"MFS1Ca","x":145,"y":21.1},{"s":"MFS1Ca","x":165,"y":19.5},{"s":"MFS1Ca","x":193,"y":17.9},{"s":"MFS1Ca","x":221,"y":16.3},{"s":"MFS1Ca","x":248,"y":15.4},{"s":"MFS1Ca","x":276,"y":14.1},{"s":"MFS1Ca","x":304,"y":13},{"s":"MFS1Ca","x":331,"y":12.2},{"s":"MFS1Ca","x":359,"y":11.4},{"s":"MFS1Ca","x":387,"y":10.6},{"s":"MFS1Ca","x":415,"y":9.4},{"s":"MFS1Ca","x":442,"y":8.9},{"s":"MFS1Ca","x":470,"y":8.1},{"s":"MFS1Ca","x":498,"y":7.6},{"s":"MFS1Ca","x":525,"y":7},{"s":"MFS1Ca","x":553,"y":6.5},{"s":"MFS1Ca","x":581,"y":5.7},{"s":"MFS1Ca","x":608,"y":4.9},{"s":"MFS1Ca","x":636,"y":3.6},{"s":"MFS1Ca","x":664,"y":2.4},{"s":"MFS1Ca","x":688,"y":1},
{"s":"MFS1","x":1,"y":9.8},{"s":"MFS1","x":27,"y":9.8},{"s":"MFS1","x":34,"y":11},{"s":"MFS1","x":41,"y":13.3},{"s":"MFS1","x":48,"y":12.2},{"s":"MFS1","x":62,"y":11.4},{"s":"MFS1","x":82,"y":10.6},{"s":"MFS1","x":103,"y":11},{"s":"MFS1","x":124,"y":11.4},{"s":"MFS1","x":138,"y":11.7},{"s":"MFS1","x":152,"y":9.8},{"s":"MFS1","x":172,"y":8.1},{"s":"MFS1","x":207,"y":7.3},{"s":"MFS1","x":262,"y":6.5},{"s":"MFS1","x":318,"y":5.7},{"s":"MFS1","x":373,"y":4.1},{"s":"MFS1","x":428,"y":3.3},{"s":"MFS1","x":484,"y":2.4},{"s":"MFS1","x":539,"y":2},{"s":"MFS1","x":608,"y":1.6},{"s":"MFS1","x":688,"y":0.8},
{"s":"HMMRE","x":0,"y":3},{"s":"HMMRE","x":6.5,"y":3.2},{"s":"HMMRE","x":7.3,"y":100},{"s":"HMMRE","x":8.3,"y":100},{"s":"HMMRE","x":9,"y":4},{"s":"HMMRE","x":30,"y":3.8},{"s":"HMMRE","x":60,"y":4},{"s":"HMMRE","x":100,"y":4.1},{"s":"HMMRE","x":150,"y":4},{"s":"HMMRE","x":200,"y":3.7},{"s":"HMMRE","x":262,"y":3.3},{"s":"HMMRE","x":330,"y":3},{"s":"HMMRE","x":401,"y":2.7},{"s":"HMMRE","x":470,"y":2.3},{"s":"HMMRE","x":539,"y":2},{"s":"HMMRE","x":608,"y":1.6},{"s":"HMMRE","x":688,"y":1},
{"s":"SSR","x":0,"y":2.4},{"s":"SSR","x":20,"y":2.6},{"s":"SSR","x":41,"y":2.3},{"s":"SSR","x":100,"y":2.2},{"s":"SSR","x":200,"y":2},{"s":"SSR","x":300,"y":1.7},{"s":"SSR","x":400,"y":1.5},{"s":"SSR","x":500,"y":1.3},{"s":"SSR","x":600,"y":1.1},{"s":"SSR","x":688,"y":0.9},
{"s":"MAPPs","x":0,"y":1.6},{"s":"MAPPs","x":100,"y":1.5},{"s":"MAPPs","x":169,"y":1.4},{"s":"MAPPs","x":175,"y":0.3},{"s":"MAPPs","x":688,"y":0.2},
{"s":"CloseSS","x":0,"y":5},{"s":"CloseSS","x":3,"y":4},{"s":"CloseSS","x":6,"y":5.5},{"s":"CloseSS","x":10,"y":4.2},{"s":"CloseSS","x":20,"y":4.5},{"s":"CloseSS","x":30,"y":3.9},{"s":"CloseSS","x":55,"y":3.5},{"s":"CloseSS","x":100,"y":3.3},{"s":"CloseSS","x":200,"y":3},{"s":"CloseSS","x":300,"y":2.7},{"s":"CloseSS","x":401,"y":2.4},{"s":"CloseSS","x":500,"y":2},{"s":"CloseSS","x":608,"y":1.6},{"s":"CloseSS","x":688,"y":0.8},
{"s":"AA type","x":0,"y":100},{"s":"AA type","x":1,"y":5.5},{"s":"AA type","x":20,"y":5.5},{"s":"AA type","x":48,"y":11.4},{"s":"AA type","x":48.5,"y":6.2},{"s":"AA type","x":79,"y":9.5},{"s":"AA type","x":79.5,"y":6.8},{"s":"AA type","x":113,"y":8.6},{"s":"AA type","x":113.5,"y":7},{"s":"AA type","x":150,"y":8.2},{"s":"AA type","x":150.5,"y":7.2},{"s":"AA type","x":185,"y":8},{"s":"AA type","x":185.5,"y":7.3},{"s":"AA type","x":220,"y":8.2},{"s":"AA type","x":260,"y":8.5},{"s":"AA type","x":300,"y":8.8},{"s":"AA type","x":338,"y":9.1},{"s":"AA type","x":340,"y":7.8},{"s":"AA type","x":380,"y":7.4},{"s":"AA type","x":401,"y":7.3},{"s":"AA type","x":470,"y":6.8},{"s":"AA type","x":539,"y":6.5},{"s":"AA type","x":594,"y":5.7},{"s":"AA type","x":636,"y":4.1},{"s":"AA type","x":664,"y":2.4},{"s":"AA type","x":688,"y":0.8}
]
},
"concat": [
{
"width": 245, "height": 210,
"view": {"stroke": "#a6a6a6", "strokeWidth": 1},
"data": {"name": "a"},
"layer": [
{"mark": {"type": "line", "strokeWidth": 2.2},
"encoding": {
"x": {"field": "x", "type": "quantitative", "scale": {"domain": [0, 100], "nice": false},
"axis": {"orient": "bottom", "values": [0, 100], "grid": false, "domain": false, "ticks": false, "tickSize": 0, "labelFontSize": 14, "labelPadding": 1, "labelAlign": {"condition": {"test": "datum.value == 100", "value": "right"}, "value": "center"}, "title": "Prediction threshold", "titleFontSize": 12, "titleFontWeight": "normal", "titleY": 6, "titleBaseline": "middle"}},
"y": {"field": "y", "type": "quantitative", "scale": {"domain": [-0.05, 0.3], "nice": false, "zero": false},
"axis": {"values": [-0.05,-0.04,-0.03,-0.02,-0.01,0,0.01,0.02,0.03,0.04,0.05,0.06,0.07,0.08,0.09,0.1,0.11,0.12,0.13,0.14,0.15,0.16,0.17,0.18,0.19,0.2,0.21,0.22,0.23,0.24,0.25,0.26,0.27,0.28,0.29,0.3], "grid": true, "gridColor": "#c6c6c6", "gridOpacity": {"condition": {"test": "abs(round(datum.value*100)) % 5 != 0", "value": 0}, "value": 1}, "domain": false, "ticks": true, "tickSize": 5, "tickColor": "#bdbdbd", "labelExpr": "(abs(round(datum.value*100)) % 10 == 0 && datum.value > -0.001) ? format(datum.value, '.1~f') : ''", "labelFontSize": 14, "labelPadding": 10, "title": "Matthew’s Correlation Coefficient", "titleFontSize": 12.5, "titleFontWeight": "normal", "titleX": -45, "titleY": 109, "titleBaseline": "middle"}},
"color": {"field": "s", "type": "nominal", "scale": {"domain": ["MFS2Ca","MFS1Ca","MFS","HMMRE","SSR","CloseSS","AA type"], "range": ["#4f86f2","#1db31d","#a89c77","#7b2a8c","#e3df00","#f23b1c","#25b5be"]},
"legend": {"orient": "none", "legendX": 240, "legendY": 6, "title": null, "symbolType": "stroke", "symbolSize": 144, "symbolStrokeWidth": 2.5, "labelFontSize": 18, "labelColor": "#1a1a1a", "rowPadding": 3.7, "labelOffset": 1, "padding": 0}}
}},
{"mark": {"type": "point", "opacity": 0},
"encoding": {
"x": {"field": "x", "type": "quantitative", "axis": {"orient": "top", "labels": false, "ticks": false, "domain": false, "grid": false, "title": ["Calcium binding prediction", "MCC profile for set 0"], "titleFontSize": 18, "titleFontWeight": "normal", "titleLineHeight": 23, "titleX": 119, "titleY": -40, "titleBaseline": "middle", "titleAlign": "center"}},
"y": {"field": "y", "type": "quantitative", "axis": {"orient": "right", "labels": false, "ticks": false, "domain": false, "grid": false, "title": "a", "titleFont": "Liberation Sans", "titleFontSize": 38, "titleFontWeight": "bold", "titleColor": "#000000", "titleAngle": 0, "titleAlign": "left", "titleBaseline": "alphabetic", "titleX": -282, "titleY": -25}}
}}
],
"resolve": {"axis": {"x": "independent", "y": "independent"}}
},
{
"width": 248, "height": 210,
"view": {"stroke": "#a6a6a6", "strokeWidth": 1},
"data": {"name": "b"},
"layer": [
{"mark": {"type": "line", "strokeWidth": 2.2},
"encoding": {
"x": {"field": "x", "type": "quantitative", "scale": {"domain": [0, 100], "nice": false},
"axis": {"orient": "bottom", "values": [0, 100], "grid": false, "domain": false, "ticks": false, "tickSize": 0, "labelFontSize": 14, "labelPadding": 1, "labelAlign": {"condition": {"test": "datum.value == 100", "value": "right"}, "value": "center"}, "title": "Prediction threshold", "titleFontSize": 12, "titleFontWeight": "normal", "titleY": 6, "titleBaseline": "middle"}},
"y": {"field": "y", "type": "quantitative", "scale": {"domain": [-0.05, 0.3], "nice": false, "zero": false},
"axis": {"values": [-0.05,-0.04,-0.03,-0.02,-0.01,0,0.01,0.02,0.03,0.04,0.05,0.06,0.07,0.08,0.09,0.1,0.11,0.12,0.13,0.14,0.15,0.16,0.17,0.18,0.19,0.2,0.21,0.22,0.23,0.24,0.25,0.26,0.27,0.28,0.29,0.3], "grid": true, "gridColor": "#c6c6c6", "gridOpacity": {"condition": {"test": "abs(round(datum.value*100)) % 5 != 0", "value": 0}, "value": 1}, "domain": false, "ticks": true, "tickSize": 5, "tickColor": "#bdbdbd", "labelExpr": "(abs(round(datum.value*100)) % 10 == 0 && datum.value > -0.001) ? format(datum.value, '.1~f') : ''", "labelFontSize": 14, "labelPadding": 10, "title": "Matthew’s Correlation Coefficient", "titleFontSize": 12.5, "titleFontWeight": "normal", "titleX": -45, "titleY": 109, "titleBaseline": "middle"}},
"color": {"field": "s", "type": "nominal", "scale": {"domain": ["MFS2Ca","MFS1Ca","MFS","HMMRE","SSR","CloseSS","AA type"], "range": ["#4f86f2","#1db31d","#a89c77","#7b2a8c","#e3df00","#f23b1c","#25b5be"]},
"legend": {"orient": "none", "legendX": 246, "legendY": 4, "title": null, "symbolType": "stroke", "symbolSize": 144, "symbolStrokeWidth": 2.5, "labelFontSize": 17.5, "labelColor": "#1a1a1a", "rowPadding": 3.4, "labelOffset": 1, "padding": 0}}
}},
{"mark": {"type": "point", "opacity": 0},
"encoding": {
"x": {"field": "x", "type": "quantitative", "axis": {"orient": "top", "labels": false, "ticks": false, "domain": false, "grid": false, "title": ["Calcium binding prediction", "MCC profile for set 1"], "titleFontSize": 18, "titleFontWeight": "normal", "titleLineHeight": 23, "titleX": 121, "titleY": -40, "titleBaseline": "middle", "titleAlign": "center"}},
"y": {"field": "y", "type": "quantitative", "axis": {"orient": "right", "labels": false, "ticks": false, "domain": false, "grid": false, "title": "b", "titleFont": "Liberation Sans", "titleFontSize": 38, "titleFontWeight": "bold", "titleColor": "#000000", "titleAngle": 0, "titleAlign": "left", "titleBaseline": "alphabetic", "titleX": -289, "titleY": -27}}
}}
],
"resolve": {"axis": {"x": "independent", "y": "independent"}}
},
{
"width": 319, "height": 195,
"data": {"name": "c"},
"layer": [
{"mark": {"type": "line", "strokeWidth": 1.6},
"encoding": {
"x": {"field": "x", "type": "quantitative", "scale": {"domain": [0, 810], "nice": false},
"axis": {"orient": "bottom", "values": [0,100,200,300,400,500,600,700,800], "grid": false, "domain": true, "domainColor": "#8c8c8c", "ticks": true, "tickSize": 4, "tickColor": "#8c8c8c", "labelFontSize": 9, "labelColor": "#4d4d4d", "labelPadding": 6, "title": "recall", "titleFontSize": 11, "titleFontWeight": "normal", "titleY": 27, "titleBaseline": "middle"}},
"y": {"field": "y", "type": "quantitative", "scale": {"domain": [0, 100], "nice": false},
"axis": {"values": [0,10,20,30,40,50,60,70,80,90,100], "grid": false, "domain": true, "domainColor": "#8c8c8c", "ticks": true, "tickSize": 4, "tickColor": "#8c8c8c", "labelFontSize": 9, "labelColor": "#4d4d4d", "labelPadding": 5, "title": "precision (%)", "titleFontSize": 11, "titleFontWeight": "normal", "titleX": -28, "titleY": 106, "titleBaseline": "middle"}},
"color": {"field": "s", "type": "nominal", "scale": {"domain": ["MFS2Ca","MFS1Ca","MFS1","HMMRE","SSR","MAPPs","CloseSS","AA type"], "range": ["#4a80f0","#2e9e6b","#fcc79a","#7b2a8c","#f0e400","#a6a6a6","#f03c1e","#3ecfd6"]},
"legend": {"orient": "none", "legendX": 242, "legendY": 3.5, "title": null, "symbolType": "stroke", "symbolSize": 144, "symbolStrokeWidth": 2.5, "labelFontSize": 17, "labelColor": "#1a1a1a", "rowPadding": 4.8, "labelOffset": 1, "padding": 0}}
}},
{"mark": {"type": "point", "opacity": 0},
"encoding": {
"x": {"field": "x", "type": "quantitative", "axis": {"orient": "top", "labels": false, "ticks": false, "domain": false, "grid": false, "title": ["Calcium binding residue prediction", "CaNR0 set 10 fold cross validation", "precision-recall curve"], "titleFontSize": 17.4, "titleFontWeight": "normal", "titleLineHeight": 22, "titleX": 146, "titleY": -34, "titleBaseline": "middle", "titleAlign": "center"}},
"y": {"field": "y", "type": "quantitative", "axis": {"orient": "right", "labels": false, "ticks": false, "domain": false, "grid": false, "title": "c", "titleFont": "Liberation Sans", "titleFontSize": 33, "titleFontWeight": "bold", "titleColor": "#000000", "titleAngle": 0, "titleAlign": "left", "titleBaseline": "alphabetic", "titleX": -358, "titleY": -23}}
}}
],
"resolve": {"axis": {"x": "independent", "y": "independent"}}
},
{
"width": 334, "height": 205,
"data": {"name": "d"},
"layer": [
{"mark": {"type": "line", "strokeWidth": 1.6},
"encoding": {
"x": {"field": "x", "type": "quantitative", "scale": {"domain": [0, 688], "nice": false},
"axis": {"orient": "bottom", "values": [0,100,200,300,400,500,600], "grid": false, "domain": true, "domainColor": "#8c8c8c", "ticks": true, "tickSize": 4, "tickColor": "#8c8c8c", "labelFontSize": 10, "labelColor": "#4d4d4d", "labelPadding": 6, "title": "recall", "titleFontSize": 12, "titleFontWeight": "normal", "titleY": 25, "titleBaseline": "middle"}},
"y": {"field": "y", "type": "quantitative", "scale": {"domain": [0, 100], "nice": false},
"axis": {"values": [0,10,20,30,40,50,60,70,80,90,100], "grid": false, "domain": true, "domainColor": "#8c8c8c", "ticks": true, "tickSize": 4, "tickColor": "#8c8c8c", "labelFontSize": 10, "labelColor": "#4d4d4d", "labelPadding": 5, "title": "precision (%)", "titleFontSize": 12, "titleFontWeight": "normal", "titleX": -30, "titleY": 107, "titleBaseline": "middle"}},
"color": {"field": "s", "type": "nominal", "scale": {"domain": ["MFS2Ca","MFS1Ca","MFS1","HMMRE","SSR","MAPPs","CloseSS","AA type"], "range": ["#4a80f0","#2e9e6b","#fcc79a","#7b2a8c","#f0e400","#a6a6a6","#f03c1e","#3ecfd6"]},
"legend": {"orient": "none", "legendX": 246, "legendY": 0, "title": null, "symbolType": "stroke", "symbolSize": 144, "symbolStrokeWidth": 2.5, "labelFontSize": 18, "labelColor": "#1a1a1a", "rowPadding": 4, "labelOffset": 1, "padding": 0}}
}},
{"mark": {"type": "point", "opacity": 0},
"encoding": {
"x": {"field": "x", "type": "quantitative", "axis": {"orient": "top", "labels": false, "ticks": false, "domain": false, "grid": false, "title": ["Calcium binding residue prediction", "CaNR1 set 10 fold cross validation", "precision-recall curve"], "titleFontSize": 18, "titleFontWeight": "normal", "titleLineHeight": 22.5, "titleX": 151, "titleY": -39, "titleBaseline": "middle", "titleAlign": "center"}},
"y": {"field": "y", "type": "quantitative", "axis": {"orient": "right", "labels": false, "ticks": false, "domain": false, "grid": false, "title": "d", "titleFont": "Liberation Sans", "titleFontSize": 32, "titleFontWeight": "bold", "titleColor": "#000000", "titleAngle": 0, "titleAlign": "left", "titleBaseline": "alphabetic", "titleX": -381, "titleY": -23}}
}}
],
"resolve": {"axis": {"x": "independent", "y": "independent"}}
}
]
}
